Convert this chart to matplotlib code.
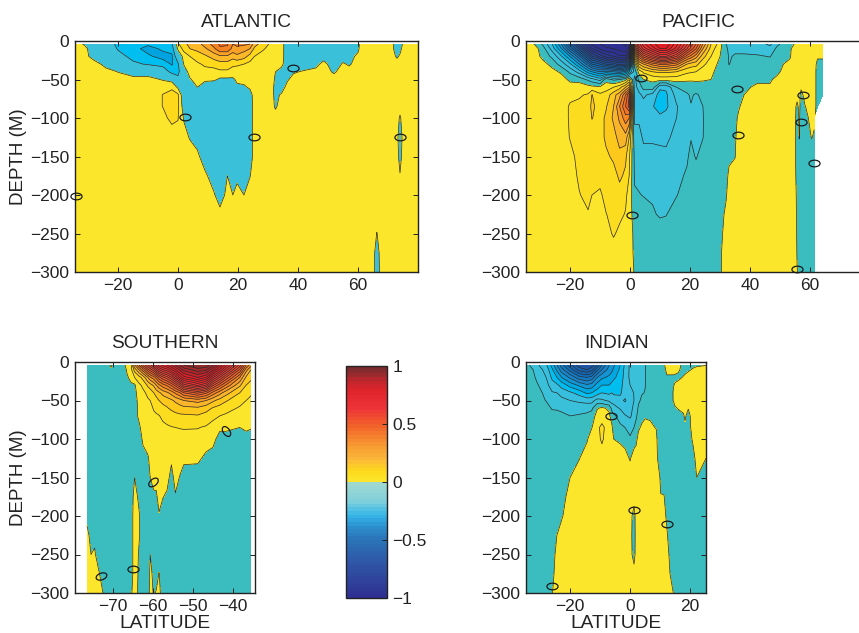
import numpy as np
import matplotlib
matplotlib.use("Agg")
import matplotlib.pyplot as plt
from matplotlib.colors import LinearSegmentedColormap, ListedColormap, BoundaryNorm, Normalize, to_rgb
from matplotlib.cm import ScalarMappable
from matplotlib.markers import MarkerStyle
from matplotlib.transforms import Affine2D

plt.rcParams['font.family'] = ['Liberation Sans', 'DejaVu Sans']
nan = float('nan')

depths = [4,10,20,30,40,50,60,70,85,100,125,150,175,200,225,250,275,300]

# Values x 100, one list per latitude, running down the depths
atl_lat = [-34.3,-31,-28,-24,-20,-15,-10,-5,-2,0,2,4,6.5,9,12,14,16.5,18.3,19.7,22,24,25.5,28,31,32.5,34.5,36.5,38.5,42,46,48.5,52,55,57,60,60.7,65,66.3,67.6,71,73,74,75,80]
atl_val = [
[3,3,3,3,3,3,3,3,3,3,3,3,3,3,3,3,3,3],
[-1,2,3,3,3,3,3,3,3,3,3,3,3,3,3,3,3,3],
[-5,-5,-4,4,3,3,3,3,3,3,3,3,3,3,3,3,3,3],
[-5,-5,-5,-3,3,3,3,3,3,3,3,3,3,3,3,3,3,3],
[-12,-10.5,-8,-5,-0.2,3,3,3,3,3,3,3,3,3,3,3,3,3],
[-13,-13,-11.5,-9,-3,2,3,3,3,3,3,3,3,3,3,3,3,3],
[-14,-17,-14,-10.5,-3,2,3,3,3,3,3,3,3,3,3,3,3,3],
[-13,-14,-17,-12,-6,-0.5,4,5.1,5.1,4,3,3,3,3,3,3,3,3],
[-11,-13,-16,-15.5,-12,-2,4,7,7,6,3,3,3,3,3,3,3,3],
[4,1,-5,-11,-12,-8,-1,6,6,5.3,3,3,3,3,3,3,3,3],
[9,7,2,0.5,-3,-5,-5,-5,-3,-0.5,2,3,3,3,3,3,3,3],
[11,10,5,3,2,-0.5,-5,-5,-5,-5,-0.5,3,3,3,3,3,3,3],
[13,11,8,4,3,2,0,-5,-5,-5,-4,2,3,3,3,3,3,3],
[17,14,9,6,3,1,-3,-5,-5,-5,-5,-5,2,3,3,3,3,3],
[22,19,12,7,3,1,-5,-5,-5,-5,-5,-5,-5,1,3,3,3,3],
[26,24,14,8,4,-1,-5,-5,-5,-5,-5,-5,-5,-5,3,3,3,3],
[25.5,24,14,8,4,-1,-5,-5,-5,-5,-5,-5,0,3,3,3,3,3],
[20,18,12,6,3,-1,-5,-5,-5,-5,-5,-5,-5,0,3,3,3,3],
[22,18,14,6,2,1,-1,-5,-5,-5,-5,-5,-2,3,3,3,3,3],
[21,17,12,5,3,2,-1,-5,-5,-5,-5,-5,-5,0,3,3,3,3],
[20,15,8,3.5,3,3,1,-3,-4,-4,-4,-4,-0.3,3,3,3,3,3],
[12,9,5,3,3,3,3,3,3,3,3,3,3,3,3,3,3,3],
[8,6,3,3,3,3,3,3,3,3,3,3,3,3,3,3,3,3],
[4,3,3,3,3,3,3,3,3,3,3,3,3,3,3,3,3,3],
[3,3,3,3,0,-1,-2,-2,-1,3,3,3,3,3,3,3,3,3],
[3,3,3,2,-3,-4,-4,1,3,3,3,3,3,3,3,3,3,3],
[-5,-5,-5,-5,-3,-1,3,3,3,3,3,3,3,3,3,3,3,3],
[-5,-5,-5,-5,-1,3,3,3,3,3,3,3,3,3,3,3,3,3],
[-5,-5,-5,-5,1,3,3,3,3,3,3,3,3,3,3,3,3,3],
[-5,-5,-5,-3,3,3,3,3,3,3,3,3,3,3,3,3,3,3],
[-5,-5,-4,3,3,3,3,3,3,3,3,3,3,3,3,3,3,3],
[-5,-5,-5,-5,-1,3,3,3,3,3,3,3,3,3,3,3,3,3],
[-5,-5,-4,1,3,3,3,3,3,3,3,3,3,3,3,3,3,3],
[-5,-5,-5,-1,3,3,3,3,3,3,3,3,3,3,3,3,3,3],
[-5,-3,3,3,3,3,3,3,3,3,3,3,3,3,3,3,3,3],
[3,3,3,3,3,3,3,3,3,3,3,3,3,3,3,3,3,3],
[3,3,3,3,3,3,3,3,3,3,3,3,3,3,3,3,3,3],
[3,3,3,3,3,3,3,3,3,3,3,3,3,3,3,-0.2,-4,-6],
[3,3,3,3,3,3,3,3,3,3,3,3,3,3,3,3,3,3],
[3,3,3,3,3,3,3,3,3,3,3,3,3,3,3,3,3,3],
[-5,-4,-1,3,3,3,3,3,3,3,3,3,3,3,3,3,3,3],
[-4,-2,1,3,3,3,3,3,3,-1,-6,-3,0.5,3,3,3,3,3],
[1,2,3,3,3,3,3,3,3,3,3,3,3,3,3,3,3,3],
[3,3,3,3,3,3,3,3,3,3,3,3,3,3,3,3,3,3],
]
atl_oval_lat = [2.5,25.3,38.3,74,-34]
atl_oval_dep = [-99,-125,-35,-125,-201]

pac_lat = [-34.5,-31.7,-29,-26,-23,-20,-17,-14,-12.7,-10,-8,-5.5,-3.5,-1.5,-0.3,1.5,3,4.5,7.5,10,12,15.5,19,20.3,22,24.3,27,29,30,32,33,35,36.2,38,42.5,46.7,49,53.3,55,55.3,55.7,56.4,57,58.3,60.6,61.4,62.5,64.3]
pac_val = [
[3,3,3,3,3,3,3,3,3,3,3,3,3,3,3,3,3,3],
[-0.5,2,3,3,3,3,3,3,3,3,3,3,3,3,3,3,3,3],
[-6,-3,-2,2,3,3,3,3,3,3,3,3,3,3,3,3,3,3],
[-15,-12,-6,-2,2,3,3,3,3,3,3,3,3,3,3,3,3,3],
[-30,-24,-14,-7,-1,3,3,3,3,3,3,3,3,3,3,3,3,3],
[-48,-40,-25,-14,-6,-1.5,3,4,5.5,5.5,5.2,4,3.5,3,3,3,3,3],
[-66,-56,-38,-25,-12,-2,3,4.5,6,6,6,6,5.5,4.8,3.5,3,3,3],
[-80,-74,-56,-38,-22,-6,2,5.5,8,7,7,7,6,6,4.7,3,3,3],
[-86,-80,-64,-45,-25,-8,1.5,10.2,11,10.2,7,7,6,5,3.5,3,3,3],
[-90,-86,-72,-50,-30,-12,1,6,8,8,8,7,6,4.5,3.5,3,3,3],
[-92,-89,-77,-55,-28,-2,3,7,9.5,11,11,9,7,6,4.9,3.5,3,3],
[-92,-90,-80,-58,-30,-6,5,13,15,16,13,11,8,7,6,5.5,3,3],
[-94,-92,-84,-62,-32,-5,8,18,25,21,17,13.5,11,8,6,4,3,3],
[-96,-94,-84,-60,-28,-2,15,30,35,28,18,11,9,6,4.7,3,3,3],
[-92,-88,-72,-50,-20,5,20,40,42,25,10,6,5,3,2,2,2.5,3],
[40,32,12,-3,-8,-12,-12,-12,-12,-11,-8,-6,-5.5,-4.5,-2,-1,-1,-0.5],
[58,52,32,15,2,-4,-8,-11,-12,-11,-8,-7,-6,-4.8,-3,-2,-2,-2],
[68,62,42,20,6,0,-3,-9,-12,-12,-11,-8,-6.5,-5.2,-3,-2,-2,-2],
[78,72,52,27,10,1,-2,-12,-14.7,-14.8,-11,-8,-6,-5.5,-4.5,-2,-2,-2],
[84,80,60,31,11,2,-14,-17,-17,-14,-11.5,-8,-7,-6,-5.5,-3,-2,-2],
[84,80,60,31,11,2,-14,-16,-16,-13,-12,-8,-7,-6,-5.2,-3,-2,-2],
[72,68,50,27,10,2,-5,-8,-10.5,-10,-7,-7,-6,-5.2,-3,-2,-2,-2],
[56,50,32,15,6,1,-3.5,-5.5,-6,-6.5,-6,-5.5,-4.5,-3,-2,-2,-2,-2],
[48,43,28,13,5.5,1,-4,-4.5,-5.2,-6,-5.2,-4,-3,-2,-2,-2,-2,-2],
[40,35,22,12,5,1,-3,-5.5,-6.5,-6.5,-6,-5.3,-3.5,-2.5,-2,-2,-2,-2],
[25,20,12,6,3,0.5,-2,-4,-5,-5.2,-5.1,-3.5,-2.5,-2,-2,-2,-2,-2],
[10,8,5,3,1.5,0,-2,-2,-2,-2,-2,-2,-2,-2,-2,-2,-2,-2],
[5,3,1.5,0,-1.5,-2,-2,-2,-2,-2,-2,-2,-2,-2,-2,-2,-2,-1.5],
[2,1,0,-1,-2,-2,-2,-2,-2,-2,-2,-2,-2,-2,-2,-1.5,-1,-0.8],
[-5,-4,-3,-3,-2.5,-2,-2,-2,-2,-2,-2,-2,-1.5,-0.5,1,2,3,3],
[-6,-6,-5.5,-5.2,-3,-2,-2,-2,-2,-2,-2,-1,1,2,3,3,3,3],
[-6.5,-6,-4.5,-3,-2,-2,-2,-2,-2,-1.5,-1,-0.2,2,3,3,3,3,3],
[-6.5,-6,-4.5,-3,-2,-2,-2,-1.5,-0.7,1,3,3,3,3,3,3,3,3],
[-7,-6,-4.5,-2.5,-2,-2,-1,0,2,3,3,3,3,3,3,3,3,3],
[-8,-7,-4.5,-2.5,-2,-1,1,3,3,3,3,3,3,3,3,3,3,3],
[-11,-8,-5.2,-3,-1.5,-0.5,0.5,3,3,3,3,3,3,3,3,3,3,3],
[-6,-4,-2,-1,-1,1,3,3,3,3,3,3,3,3,3,3,3,3],
[-1.5,-1,-0.5,1,3,3,3,3,3,3,3,3,3,3,3,3,3,3],
[0.3,3,3,3,3,3,3,3,3,3,3,3,3,3,3,3,3,3],
[3,3,3,3,3,3,3,3,0,-1.5,-2,-2,-0.5,1,2,3,3,3],
[3,3,3,3,3,3,3,3,-2,-3,-3,-3,-3,-3,-3,-2,-1,0.5],
[3,3,3,3,3,3,3,2,2,1,0.3,-3,-3,-3,-3,-3,-3,-3],
[3,3,3,3,3,3,1,-2,-3,-3,-3,-3,-3,-3,-3,-3,-3,-3],
[3,3,3,3,3,3,3,2,-0.3,-3,-3,-3,-3,-3,-3,-3,-3,-3],
[3,3,3,3,3,3,3,3,3,3,0.3,-3,-3,-3,-3,-3,-3,-3],
[3,3,3,3,3,3,3,3,3,1.5,-1,-3,-3,-3,-3,-3,-3,-3],
[3,3,1,-2,-3,-3,-3,-3,-3,nan,nan,nan,nan,nan,nan,nan,nan,nan],
[3,3,1,-2,-3,-3,-3,-3,nan,nan,nan,nan,nan,nan,nan,nan,nan,nan],
]
pac_oval_lat = [3.8,35.7,36,57.5,57,61.3,0.5,55.7]
pac_oval_dep = [-48,-62,-122,-70,-105,-159,-226,-296]

sou_lat = [-76.5,-75.5,-74.6,-73.5,-72.5,-71.5,-70.5,-69.5,-67.2,-66.5,-65.5,-64.6,-63.5,-62.5,-61.3,-60.7,-59.8,-59.2,-58.5,-57.5,-56.5,-55.4,-54.4,-53.2,-52.3,-48.8,-46.7,-45,-43.3,-41.7,-38.3,-36.7,-35.5]
sou_val = [
[-3,-3,-3,-3,-3,-3,-3,-3,-3,-3,-3,-3,-3,-1,1,3,3,3],
[-3,-3,-3,-3,-3,-3,-3,-3,-3,-3,-3,-3,-3,-3,-1,0,3,3],
[-3,-3,-3,-3,-3,-3,-3,-3,-3,-3,-3,-3,-3,-3,-1,0.5,2,3],
[-3,-3,-3,-3,-3,-3,-3,-3,-3,-3,-3,-3,-3,-3,-3,-2,0.3,3],
[-3,-3,-3,-3,-3,-3,-3,-3,-3,-3,-3,-3,-3,-3,-3,-3,-2,0],
[-3,-3,-3,-3,-3,-3,-3,-3,-3,-3,-3,-3,-3,-3,-3,-3,-3,-3],
[1,-1,-3,-3,-3,-3,-3,-3,-3,-3,-3,-3,-3,-3,-3,-3,-3,-3],
[-3,-3,-3,-3,-3,-3,-3,-3,-3,-3,-3,-3,-3,-3,-3,-3,-3,-3],
[-1,-3,-3,-3,-3,-3,-3,-3,-3,-3,-3,-3,-3,-3,-3,-3,-3,-3],
[2,1,-1,-3,-3,-3,-3,-3,-3,-3,-3,-3,-3,-3,-3,-3,-3,-3],
[4,3.5,2,-1,-3,-3,-3,-3,-3,-3,-3,-3,-3,-3,-3,-3,-3,-1],
[20,12,5,-0.8,-2,-2,-2,-2,-2,-2,-2,0,2,3,3,3,3,3],
[30,20,8,4,3,1.5,1,1,-1,-3,-3,-3,-1,0.5,0.5,-0.5,-1,-1.5],
[40,28,12,6,4,3,3,3,2,1,-2,-3,-3,-3,-3,-3,-3,-3],
[50,38,20,11,6,4.5,3.5,3,3,2,-0.5,-3,-3,-3,-3,-3,-3,-3],
[54,42,24,13,7,5,3.5,3,3,3,1,0,-3,-3,-3,0,1,2],
[60,48,28,16,10,7,5.5,4,3,3,2,2,-1,-3,-3,-3,-1,-0.5],
[66,54,32,20,12,8,6,4.5,3,3,3,2,-1,-3,-3,-3,-3,0.5],
[72,60,38,24,14,10,7,4.8,3.5,3,3,3,2,-0.5,-3,-3,0.2,1.5],
[77,65,44,28,17,11.5,8.5,6,4,3,3,3,0.2,-3,-3,-3,-3,-3],
[80,68,48,31,19,12.5,9.5,6.5,4.5,3.5,3,2,-1,-3,-3,-3,-3,-3],
[85,74,54,36,22,14,11,7.5,4.8,3.5,1,-2,-3,-3,-3,-3,-3,-3],
[90,80,62,42,26,16,12,8.5,5,3.5,3,2,-0.5,-3,-3,-3,-3,-3],
[96,87,72,50,30,18,13,9,5.2,3.5,2.5,-0.5,-3,-3,-3,-3,-3,-3],
[100,92,78,58,35,20,13.5,9,5.3,3.5,1,-2,-3,-3,-3,-3,-3,-3],
[105,98,85,66,41,22,14,9.5,5.2,3.5,0.8,-2,-3,-3,-3,-3,-3,-3],
[104,96,80,60,36,20,12,8,4.5,2,-1,-3,-3,-3,-3,-3,-3,-3],
[96,86,66,46,28,16,9.5,6,3.5,1.5,-2,-3,-3,-3,-3,-3,-3,-3],
[84,74,55,37,22,13,8,5,1,-2,-3,-3,-3,-3,-3,-3,-3,-3],
[72,62,44,29,17,10.5,6.5,4.3,1,-2,-3,-3,-3,-3,-3,-3,-3,-3],
[48,39,25,16,10,6.5,4.5,2.5,0,-3,-3,-3,-3,-3,-3,-3,-3,-3],
[30,22,14,10,7,5,3.5,2.5,1,-2,-3,-3,-3,-3,-3,-3,-3,-3],
[22,15,11,8.5,5.6,4,3,2,0.5,-3,-3,-3,-3,-3,-3,-3,-3,-3],
]
sou_oval_lat = [-41.8,-60,-65,-73]
sou_oval_dep = [-90,-156,-269,-278]
sou_oval_tilt = [-55,40,0,20]

ind_lat = [-34.5,-33,-31,-28,-26,-24.4,-22.8,-20,-17,-14.4,-12.8,-11,-9.4,-7,-6,-5.5,-3.3,-1.7,0,1.3,2,2.8,3.9,5,6.7,8.7,9.1,10.2,11.3,12.2,13.3,14.4,15,16,17.8,18.3,19.4,21,22.2,25.3]
ind_val = [
[-3,-3,-3,-3,-3,-3,-3,-3,-3,-3,-3,-3,-3,-3,-3,-3,-3,-3],
[-6,-4,-3,-3,-3,-3,-3,-3,-3,-3,-3,-3,-3,-3,-3,-3,-3,-3],
[-9,-7,-6,-4.5,-3,-3,-3,-3,-3,-3,-3,-3,-3,-3,-3,-3,-3,-3],
[-14,-12,-10,-8,-6.5,-5.2,-3,-3,-3,-3,-3,-3,-3,-3,-3,-3,-3,-3],
[-22,-19,-16,-13,-9.5,-7,-5.5,-3,-3,-3,-3,-3,-3,-3,-3,-3,-2,-0.3],
[-30,-26,-20,-14,-10,-7.5,-5.5,-3.5,-3,-3,-3,-3,-3,-2,0,2,3,3],
[-38,-33,-25,-17,-12,-8.5,-6,-4,-3,-3,-3,-3,-2,-0.5,2,3,3,3],
[-48,-42,-31,-22,-14,-10,-6.5,-5,-3.5,-3,-1.5,0,2,3,3,3,3,3],
[-58,-52,-38,-26,-17,-11,-7,-4.5,-2.5,-1.5,-0.3,3,3,3,3,3,3,3],
[-60,-55,-40,-29,-21,-12,-6.5,-4,-2,-0.7,3,3,3,3,3,3,3,3],
[-58,-52,-38,-28,-20,-12,-6,-3,-0.3,3,3,3,3,3,3,3,3,3],
[-50,-42,-30,-23,-17.5,-8,-0.5,2,4,4,3,3,3,3,3,3,3,3],
[-40,-35,-26,-20,-15,-9,1,3,6,5.5,3.5,3,3,3,3,3,3,3],
[-30,-28,-24,-20,-16,-11,-1,1,3,3,3,3,3,3,3,3,3,3],
[-28,-26,-22,-18.5,-15,-12,-7,-2.5,0.5,3,3,3,3,3,3,3,3,3],
[-26,-24,-21,-18,-16,-12,-8,-4,-2,0,3,3,3,3,3,3,3,3],
[-20,-19,-18,-16.5,-15.5,-14,-10.5,-7,-4,-1,3,3,3,3,3,3,3,3],
[-14,-13.5,-13,-13,-13.5,-15.5,-13,-9.5,-5,-2,2,3,3,3,3,3,3,3],
[-9,-9,-9,-10,-12,-13,-11.5,-11,-6,-4.6,-0.5,3,3,3,3,3,3,3],
[-7,-7,-7,-8.5,-9.8,-10,-9,-7.5,-5,-3,3,3,3,-3,-4,-3,3,3],
[-6,-6,-6,-6.5,-7,-7,-6.5,-5.5,-4,-1.5,3,3,3,3,3,3,3,3],
[-6,-6,-5.8,-5.7,-5.5,-5.5,-4.5,-3.8,-1,2,3,3,3,3,3,3,3,3],
[-6,-6,-6,-5.5,-5.2,-4.5,-3.5,-2,1,3,3,3,3,3,3,3,3,3],
[-5.1,-5.1,-5.1,-5.1,-4.9,-4,-3,-1,3,3,3,3,3,3,3,3,3,3],
[-3,-3,-3,-3,-3,-3,-2.5,-0.7,1,3,3,3,3,3,3,3,3,3],
[-3,-3,-3,-3,-3,-3,-3,-2,-0.3,2,3,3,3,3,3,3,3,3],
[-3,-3,-3,-3,-3,-3,-3,-3,-3,-1,0.1,3,3,3,3,3,3,3],
[-3,-3,-3,-3,-3,-3,-3,-3,-3,-3,-3,-1,0.2,3,3,3,3,3],
[-1,-3,-3,-3,-3,-3,-3,-3,-3,-3,-3,-3,0.3,2,3,3,3,3],
[3,2,-1,-3,-3,-3,-3,-3,-3,-3,-3,-3,-3,-1,1,3,3,3],
[3,2,-1,-3,-3,-3,-3,-3,-3,-3,-3,-3,-3,-3,-3,-1.5,0,1.5],
[3,2,-1,-0.3,0.3,0.2,-3,-3,-3,-3,-3,-3,-3,-3,-3,-3,-2,0],
[3,1.5,-1,0.5,3,3,-1,-3,-3,-3,-3,-3,-3,-3,-3,-3,-3,-1],
[3,1,-1.5,2,3,3,0.5,-3,-3,-3,-3,-3,-3,-3,-3,-3,-3,-3],
[-3,-2,0.5,3,3,3,1,-0.5,-3,-3,-3,-3,-3,-3,-3,-3,-3,-3],
[-3,-1.5,1,3,3,3,2,0.8,-1,-3,-3,-3,-3,-3,-3,-3,-3,-3],
[-3,-0.7,2,3,3,3,0.3,-2,-3,-3,-3,-3,-3,-3,-3,-3,-3,-3],
[-1,0.5,3,3,3,3,3,3,3,1,-2,-3,-3,-3,-3,-3,-3,-3],
[-0.5,1,3,3,3,3,3,3,3,3,2,0,-3,-3,-3,-3,-3,-3],
[-0.2,2,3,3,3,3,3,3,3,3,0,-3,-3,-3,-3,-3,-3,-3],
]
ind_oval_lat = [-6.4,1.3,12.4,-26]
ind_oval_dep = [-70,-192,-210,-291]

bar_ticks = [-1,-0.5,0,0.5,1]
bar_labels = ['\u22121','\u22120.5','0','0.5','1']

# Colours
anchors = [(-88,'#2e3192'),(-70,'#2b3f98'),(-55,'#1b5aa8'),(-42,'#0f6fbe'),(-30,'#1c8ace'),
           (-22.5,'#00a8e3'),(-17.5,'#00bff0'),(-12.5,'#38bfdf'),(-7.5,'#3bc0d9'),(-2.5,'#3bbdc0'),
           (2.5,'#fbe62b'),(7.5,'#fbdc1e'),(12.5,'#fcc81c'),(17.5,'#f9b52a'),(22.5,'#f89c26'),
           (27.5,'#f58420'),(40,'#f15a29'),(60,'#ef3b34'),(80,'#ed1c24'),(92,'#b5242a'),(103,'#8c2a2a')]
ax_v = np.array([a[0] for a in anchors], float)
ax_c = np.array([to_rgb(a[1]) for a in anchors])
def band_colour(v):
    return tuple(np.interp(v, ax_v, ax_c[:,i]) for i in range(3))
atl_colours = ['#00a3df','#00bff0','#3bc0d9','#fbe62b','#fdd81b','#fbb92a','#f9a027','#f58220','#f26a22']
bar_colours = [(0,'#2e3192'),(0.125,'#2f50a3'),(0.25,'#2b74b8'),(0.30,'#2b8ccb'),(0.355,'#35b5e8'),
               (0.415,'#7fd0dc'),(0.495,'#9fd8cf'),(0.5,'#fbe62b'),(0.55,'#fdd91c'),(0.6,'#fbb83a'),
               (0.675,'#f7912f'),(0.75,'#f15f2b'),(0.825,'#ee3338'),(0.9,'#e0242b'),(0.95,'#b9272d'),(0.975,'#8f2b2e'),(1,'#7d2b2e')]
bar_cmap = LinearSegmentedColormap.from_list('bar', bar_colours, N=64)

W, H = 859, 633
fig = plt.figure(figsize=(W/100, H/100), dpi=100)
def box(x0, y0, x1, y1):
    return [x0/W, 1-y1/H, (x1-x0)/W, (y1-y0)/H]

def panel(rect, lat, val, xlim, xticks, title, levels, ovals, ylabel, xlabel, colours=None, right_spine=True):
    ax = fig.add_axes(box(*rect))
    Z = np.array(val, float).T/100
    Y = -np.array(depths, float)
    cols = colours if colours else [band_colour((a+b)*50) for a, b in zip(levels[:-1], levels[1:])]
    cmap = ListedColormap(cols)
    norm = BoundaryNorm(levels, cmap.N)
    Zm = np.ma.masked_invalid(Z)
    ax.contourf(lat, Y, Zm, levels=levels, cmap=cmap, norm=norm)
    ax.contour(lat, Y, Zm, levels=levels, colors='#2a2a2a', linewidths=0.5, linestyles='solid')
    olat, odep, *tilt = ovals
    tilt = tilt[0] if tilt else [0]*len(olat)
    for x, y, t in zip(olat, odep, tilt):
        m = MarkerStyle('o', transform=Affine2D().scale(1, 0.6).rotate_deg(t))
        ax.plot([x], [y], marker=m, ms=8, mfc='none', mec='#1a1a1a', mew=0.9, ls='none', clip_on=False, zorder=5)
    ax.set_xlim(*xlim)
    ax.set_ylim(-300, 0)
    ax.set_xticks(xticks)
    ax.set_yticks([0,-50,-100,-150,-200,-250,-300])
    ax.tick_params(direction='in', length=3.5, width=0.7, top=True, right=right_spine, labelsize=12.5, pad=4, colors='#222222')
    for s in ax.spines.values():
        s.set_linewidth(1.0); s.set_color('#222222')
    ax.spines['right'].set_visible(right_spine)
    ax.set_title(title, fontsize=13.8, pad=10, color='#222222')
    if ylabel:
        ax.set_ylabel('DEPTH (M)', fontsize=13.5, labelpad=2, color='#222222')
    if xlabel:
        ax.set_xlabel('LATITUDE', fontsize=13.8, labelpad=1, color='#222222')
    return ax

full = [v/100 for v in range(-105, 110, 5)]
atl_levels = [-0.20,-0.15,-0.10,0,0.05,0.10,0.15,0.20,0.25,0.30]

panel((75,41,418,272), atl_lat, atl_val, (-34.3,80), [-20,0,20,40,60], 'ATLANTIC', atl_levels,
      (atl_oval_lat, atl_oval_dep), True, False, colours=atl_colours)
panel((526,41,870,272), pac_lat, pac_val, (-34.7,80), [-20,0,20,40,60], 'PACIFIC', full,
      (pac_oval_lat, pac_oval_dep), False, False, right_spine=False)
panel((75,362,255,593), sou_lat, sou_val, (-79.5,-34.5), [-70,-60,-50,-40], 'SOUTHERN', full,
      (sou_oval_lat, sou_oval_dep, sou_oval_tilt), True, True)
panel((526,362,706,593), ind_lat, ind_val, (-34.7,25.3), [-20,0,20], 'INDIAN', full,
      (ind_oval_lat, ind_oval_dep), False, True)

cax = fig.add_axes(box(346,366,387,598))
cb = fig.colorbar(ScalarMappable(norm=Normalize(-1,1), cmap=bar_cmap), cax=cax)
cb.set_ticks(bar_ticks)
cb.set_ticklabels(bar_labels)
cax.tick_params(direction='in', length=3.5, width=0.7, labelsize=12.5, pad=4, colors='#222222')
cb.outline.set_linewidth(1.0); cb.outline.set_edgecolor('#222222')

fig.savefig('out.png', dpi=100)
